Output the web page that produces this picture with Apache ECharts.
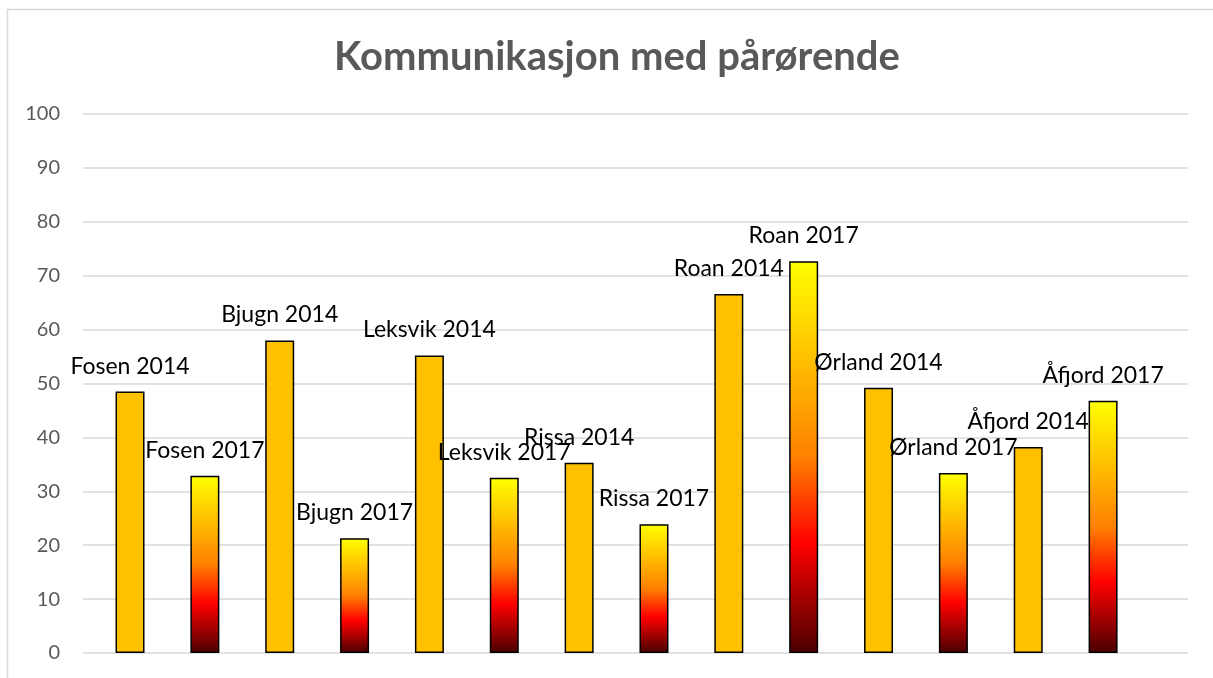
<!DOCTYPE html>
<html>
<head>
<meta charset="utf-8">
<script src="https://cdn.jsdelivr.net/npm/echarts@6/dist/echarts.min.js"></script>
<style>
  html, body { margin: 0; padding: 0; background: #fff; }
  #chart { width: 1213px; height: 678px; }
</style>
</head>
<body>
<div id="chart"></div>
<script>
const categories = ["Fosen 2014", "Fosen 2017", "Bjugn 2014", "Bjugn 2017", "Leksvik 2014", "Leksvik 2017",
  "Rissa 2014", "Rissa 2017", "Roan 2014", "Roan 2017", "Ørland 2014", "Ørland 2017", "Åfjord 2014", "Åfjord 2017"];
const values = [48.5, 32.9, 58.0, 21.3, 55.2, 32.5, 35.3, 23.9, 66.6, 72.7, 49.2, 33.4, 38.2, 46.8];
const years = [2014, 2017, 2014, 2017, 2014, 2017, 2014, 2017, 2014, 2017, 2014, 2017, 2014, 2017];
const yTicks = [0, 10, 20, 30, 40, 50, 60, 70, 80, 90, 100];

document.addEventListener("DOMContentLoaded", () => {
  var myChart = echarts.init(document.getElementById("chart"));

  var fire = new echarts.graphic.LinearGradient(0, 0, 0, 1, [
    { offset: 0, color: "#ffff00" },
    { offset: 0.25, color: "#ffc000" },
    { offset: 0.5, color: "#ff8000" },
    { offset: 0.72, color: "#ff0000" },
    { offset: 1, color: "#4a0000" },
  ]);

  var option = {
    animation: false,
    textStyle: { fontFamily: "Lato" },
    title: {
      text: "Kommunikasjon med pårørende",
      left: 612,
      textAlign: "center",
      top: 32,
      textStyle: { fontFamily: "Lato", fontSize: 40, fontWeight: "bold", color: "#595959" },
    },
    graphic: [
      {
        type: "rect",
        shape: { x: 7.5, y: 9.5, width: 1240, height: 700 },
        style: { fill: "none", stroke: "#d9d9d9", lineWidth: 1.5 },
        silent: true,
      },
    ],
    grid: [
      { left: 83, right: 25, top: 114, height: 539 },
      { left: 92.6, width: 1047.9, top: 114, height: 539 },
    ],
    xAxis: [
      { type: "value", gridIndex: 0, show: false, min: 0, max: 1 },
      {
        type: "category",
        gridIndex: 1,
        data: categories,
        axisLine: { show: false },
        axisTick: { show: false },
        axisLabel: { show: false },
      },
    ],
    yAxis: [
      {
        type: "value",
        gridIndex: 0,
        min: yTicks[0],
        max: yTicks[yTicks.length - 1],
        interval: 10,
        axisLine: { show: false },
        axisTick: { show: false },
        axisLabel: { fontFamily: "Lato", fontSize: 20, color: "#595959", margin: 23 },
        splitLine: { lineStyle: { color: "#d9d9d9", width: 1.5 } },
      },
      {
        type: "value",
        gridIndex: 1,
        min: 0,
        max: 100,
        show: false,
        splitLine: { show: false },
      },
    ],
    series: [
      {
        type: "bar",
        xAxisIndex: 1,
        yAxisIndex: 1,
        barWidth: 29,
        data: values.map((v, i) => ({
          value: v,
          itemStyle: {
            color: years[i] === 2017 ? fire : "#ffc000",
            borderColor: "#000",
            borderWidth: 1.5,
          },
        })),
        label: {
          show: true,
          position: "top",
          distance: 14,
          formatter: (p) => categories[p.dataIndex],
          fontFamily: "Lato",
          fontSize: 23,
          color: "#000",
        },
      },
    ],
  };

  option && myChart.setOption(option);
});
</script>
</body>
</html>
